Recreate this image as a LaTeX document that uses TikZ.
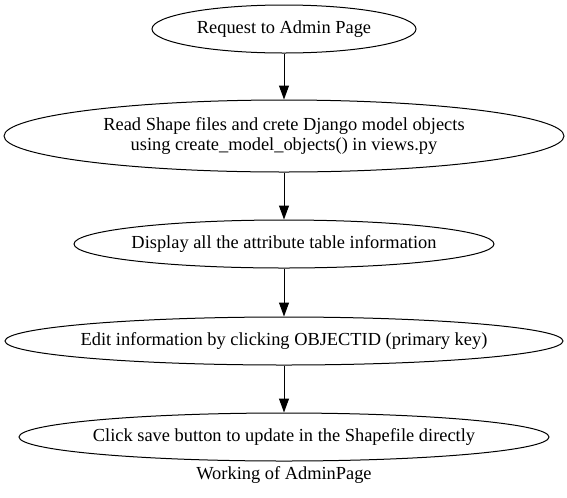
\documentclass[tikz,border=0pt]{standalone}
\usepackage{fontspec}
\setmainfont{Liberation Serif}
\usetikzlibrary{shapes.geometric,arrows.meta}
\begin{document}
\begin{tikzpicture}[x=0.75pt,y=-0.75pt,
  oval/.style={ellipse,draw,line width=0.75pt,inner sep=0pt,minimum height=36pt},
  lbl/.style={inner sep=0pt,align=center,font=\fontsize{13.8pt}{15.5pt}\selectfont},
  arr/.style={-{Triangle[length=10.5pt,width=7.5pt]},line width=0.75pt}]
\useasboundingbox (0,0) rectangle (567,497);
\node[oval,minimum width=198pt] (a) at (284,29) {};
\node[lbl] (ta) at (a) {Request to Admin Page};
\node[oval,minimum width=420pt,minimum height=54pt] (b) at (284,136) {};
\node[lbl] (tb) at (b) {Read Shape files and crete Django model objects\\using create\_model\_objects() in views.py};
\node[oval,minimum width=315pt] (c) at (284,244) {};
\node[lbl] (tc) at (c) {Display all the attribute table information};
\node[oval,minimum width=418.5pt] (d) at (284,341) {};
\node[lbl] (td) at (d) {Edit information by clicking OBJECTID (primary key)};
\node[oval,minimum width=397.5pt] (e) at (284,437) {};
\node[lbl] (te) at (e) {Click save button to update in the Shapefile directly};
\node[lbl] (cap) at (284,475) {Working of AdminPage};
\draw[arr] (a) -- (b);
\draw[arr] (b) -- (c);
\draw[arr] (c) -- (d);
\draw[arr] (d) -- (e);
\end{tikzpicture}
\end{document}
